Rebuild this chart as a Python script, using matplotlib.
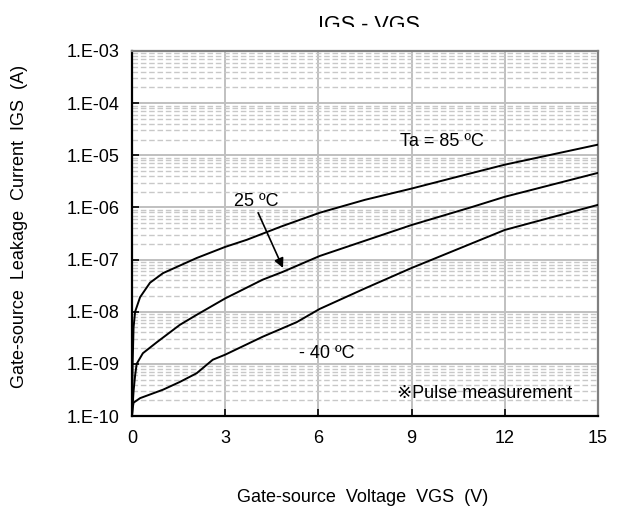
import math
import matplotlib
matplotlib.use("Agg")
import matplotlib.pyplot as plt
from matplotlib.ticker import FixedLocator, LogLocator, FuncFormatter, NullFormatter
from matplotlib.transforms import Bbox

plt.rcParams['font.family'] = ['Liberation Sans', 'DejaVu Sans', 'Noto Sans CJK JP']

# gate leakage
v_85 = [0, 0.02, 0.05, 0.1, 0.26, 0.58, 1.0, 2.08, 3.0, 3.7, 4.8, 6.04, 7.5, 9, 10.9, 12, 15]
i_85 = [1e-10, 1e-9, 5e-9, 1e-8, 1.9e-8, 3.6e-8, 5.5e-8, 1.07e-7, 1.75e-7, 2.4e-7, 4.3e-7,
        7.9e-7, 1.4e-6, 2.3e-6, 4.5e-6, 6.6e-6, 1.6e-5]

v_25 = [0, 0.05, 0.1, 0.15, 0.35, 0.8, 1.54, 2.08, 3.0, 4.2, 4.85, 6.04, 7.5, 9, 10.9, 12, 15]
i_25 = [1e-10, 3e-10, 6e-10, 1e-9, 1.6e-9, 2.6e-9, 5.6e-9, 8.7e-9, 1.8e-8, 4.1e-8, 5.8e-8,
        1.17e-7, 2.3e-7, 4.6e-7, 1.0e-6, 1.6e-6, 4.6e-6]

v_m40 = [0, 0.02, 0.05, 0.26, 1.0, 1.54, 2.08, 2.6, 3.0, 4.2, 5.3, 6.04, 7.5, 9, 10.9, 12, 15]
i_m40 = [1e-10, 1.4e-10, 1.8e-10, 2.2e-10, 3.2e-10, 4.5e-10, 6.6e-10, 1.2e-9, 1.5e-9, 3.3e-9,
         6.3e-9, 1.13e-8, 2.8e-8, 6.9e-8, 2.0e-7, 3.7e-7, 1.12e-6]

x_ticks = [0, 3, 6, 9, 12, 15]
y_ticks = [1e-10, 1e-9, 1e-8, 1e-7, 1e-6, 1e-5, 1e-4, 1e-3]

fig = plt.figure(figsize=(6.18, 5.12), dpi=100)
ax = fig.add_axes([0.2136, 0.1875, 0.754, 0.7129])

ax.set_yscale('log')
ax.set_xlim(0, 15)
ax.set_ylim(1e-10, 1e-3)

ax.xaxis.set_major_locator(FixedLocator(x_ticks))
ax.yaxis.set_major_locator(FixedLocator(y_ticks))
ax.yaxis.set_minor_locator(LogLocator(base=10, subs=range(2, 10), numticks=20))
ax.yaxis.set_minor_formatter(NullFormatter())
ax.yaxis.set_major_formatter(FuncFormatter(lambda v, p: "1.E-%02d" % round(-math.log10(v))))

ax.grid(True, which='major', color='#c0c0c0', linewidth=1.4, zorder=0)
ax.grid(True, which='minor', axis='y', color='#c8c8c8', linewidth=1.0,
        linestyle=(0, (4, 2)), zorder=0)
ax.set_axisbelow(True)

ax.tick_params(which='major', direction='in', length=5, width=1.2, labelsize=13, pad=9)
ax.tick_params(which='minor', length=0)
ax.tick_params(axis='x', pad=10)

for s in ['left', 'bottom']:
    ax.spines[s].set_color('black')
    ax.spines[s].set_linewidth(1.6)
for s in ['top', 'right']:
    ax.spines[s].set_color('#808080')
    ax.spines[s].set_linewidth(1.6)

for v, i in [(v_85, i_85), (v_25, i_25), (v_m40, i_m40)]:
    ax.plot(v, i, color='black', linewidth=1.4, zorder=3)

ax.text(9.99, 1.8e-5, "Ta = 85 ºC", fontsize=13, ha='center', va='center', zorder=4)
ax.text(3.99, 1.29e-6, "25 ºC", fontsize=13, ha='center', va='center', zorder=4)
ax.text(6.28, 1.6e-9, "- 40 ºC", fontsize=13, ha='center', va='center', zorder=4)
ax.text(11.36, 2.75e-10, "※Pulse measurement", fontsize=13, ha='center', va='center', zorder=4)
ax.annotate("", xy=(4.86, 6.9e-8), xytext=(4.06, 7.9e-7),
            arrowprops=dict(arrowstyle='-|>', color='black', lw=1.2,
                            mutation_scale=14, shrinkA=0, shrinkB=0), zorder=4)

# title is cut off at the bottom in the original
t = fig.text(369 / 618, 1 - 31 / 512, "IGS - VGS", fontsize=15.5, ha='center', va='baseline')
t.set_clip_box(Bbox.from_extents(0, 512 - 27, 618, 512))
t.set_clip_on(True)

fig.text(363 / 618, 1 - 497 / 512, "Gate-source  Voltage  VGS  (V)", fontsize=13,
         ha='center', va='center')
fig.text(20 / 618, 1 - 226 / 512, "Gate-source  Leakage  Current  IGS  (A)", fontsize=13,
         ha='center', va='center', rotation=90)

fig.savefig("out.png", dpi=100)
